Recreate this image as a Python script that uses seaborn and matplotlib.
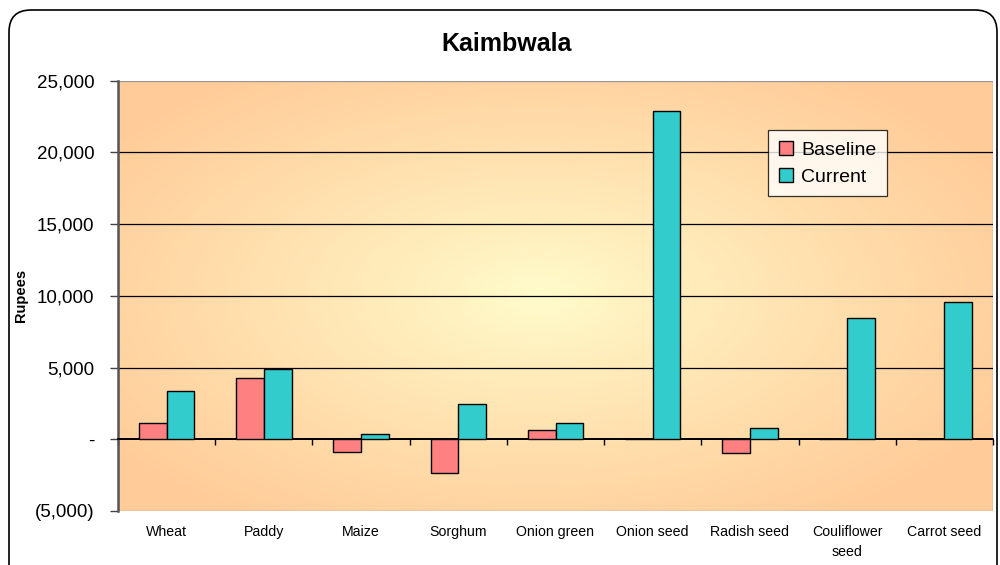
import numpy as np
import pandas as pd
import matplotlib
matplotlib.use('Agg')
import matplotlib.pyplot as plt
import matplotlib.patches as mpatches
from matplotlib.colors import to_rgb
from matplotlib.ticker import FuncFormatter, FixedLocator
import seaborn as sns

# data
crops = ['Wheat', 'Paddy', 'Maize', 'Sorghum', 'Onion green', 'Onion seed',
         'Radish seed', 'Couliflower\nseed', 'Carrot seed']
baseline = [1160, 4270, -870, -2380, 670, 0, -940, 0, 0]
current = [3340, 4930, 370, 2490, 1140, 22900, 770, 8470, 9550]
series = ['Baseline', 'Current']
colors = ['#FF8080', '#33CCCC']
y_ticks = [-5000, 0, 5000, 10000, 15000, 20000, 25000]

df = pd.DataFrame({
    'Crop': crops * 2,
    'Rupees': baseline + current,
    'Series': ['Baseline'] * len(crops) + ['Current'] * len(crops),
})

sns.set_style('white')
plt.rcParams['font.family'] = ['Liberation Sans', 'DejaVu Sans']
plt.rcParams['text.color'] = 'black'
plt.rcParams['xtick.color'] = 'black'
plt.rcParams['ytick.color'] = 'black'
plt.rcParams['axes.labelcolor'] = 'black'

fig = plt.figure(figsize=(10, 5.65), dpi=100)
fig.patch.set_facecolor('white')

# rounded chart border
border = mpatches.FancyBboxPatch((0.09, -0.4), 9.88, 5.95,
                                 boxstyle='round,pad=0,rounding_size=0.22',
                                 transform=fig.dpi_scale_trans, fill=False,
                                 edgecolor='black', linewidth=1.2)
fig.patches.append(border)

ax = fig.add_axes([0.118, 0.0956, 0.875, 0.7614])

# radial gradient background of the plot area
gx, gy = np.meshgrid(np.linspace(0, 1, 400), np.linspace(0, 1, 300))
r = np.sqrt(((gx - 0.48) / 0.6) ** 2 + ((gy - 0.5) / 0.62) ** 2)
r = np.clip(r, 0, 1) ** 0.9
c0 = np.array(to_rgb('#FFFCCC'))
c1 = np.array(to_rgb('#FFCC99'))
img = c0[None, None, :] + (c1 - c0)[None, None, :] * r[:, :, None]
ax.imshow(img, extent=[0, 1, 0, 1], transform=ax.transAxes, origin='lower',
          aspect='auto', zorder=0)

sns.barplot(data=df, x='Crop', y='Rupees', hue='Series', hue_order=series,
            palette=colors, width=0.57, gap=0, edgecolor='black', linewidth=1,
            saturation=1, ax=ax, zorder=3, legend=True)

ax.set_xlim(-0.5, len(crops) - 0.5)
ax.set_ylim(-5000, 25000)
ax.yaxis.set_major_locator(FixedLocator(y_ticks))


def fmt(v, pos):
    if v == 0:
        return '-'
    if v < 0:
        return '({:,.0f})'.format(-v)
    return '{:,.0f}'.format(v)


ax.yaxis.set_major_formatter(FuncFormatter(fmt))
ax.tick_params(axis='y', labelsize=13.5, length=6, width=1, color='#444444',
               direction='out', pad=11, left=True)
for t in y_ticks:
    if t not in (-5000, 25000):
        ax.axhline(t, color='black', linewidth=0.9 if t else 1.3, zorder=2)

# category boundary ticks on the zero line
ax.spines['bottom'].set_position(('data', 0))
ax.spines['bottom'].set_color('black')
ax.spines['bottom'].set_linewidth(1.3)
ax.set_xticks(np.arange(len(crops) + 1) - 0.5, minor=True)
ax.tick_params(axis='x', which='minor', length=4, width=1, color='black',
               direction='out', bottom=True)
ax.tick_params(axis='x', which='major', length=0, labelsize=10.2, pad=62)
for lab in ax.get_xticklabels():
    lab.set_verticalalignment('top')
    lab.set_linespacing(1.5)

ax.spines['left'].set_color('#555555')
ax.spines['left'].set_linewidth(1.8)
ax.spines['top'].set_visible(False)
ax.spines['right'].set_visible(False)
ax.add_patch(mpatches.Rectangle((0, 0), 1, 1, transform=ax.transAxes,
                                fill=False, edgecolor='#999999', linewidth=1,
                                zorder=1))

ax.set_xlabel('')
ax.set_ylabel('Rupees', fontsize=10.5, fontweight='bold')
ax.yaxis.set_label_coords(-0.103, 0.5)
fig.text(0.507, 0.922, 'Kaimbwala', ha='center', va='center', fontsize=18,
         fontweight='bold')

leg = ax.legend(loc='upper left', bbox_to_anchor=(0.743, 0.885), fontsize=14,
                frameon=True, fancybox=False, edgecolor='black',
                handlelength=0.75, handleheight=0.75, handletextpad=0.4,
                borderpad=0.55, labelspacing=0.45, borderaxespad=0)
leg.get_frame().set_linewidth(0.9)
leg.set_zorder(5)

fig.savefig('out.png', dpi=100)
